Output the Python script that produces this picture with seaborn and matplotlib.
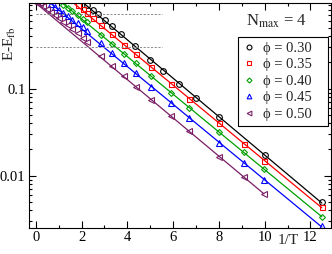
import numpy as np
import matplotlib
matplotlib.use("Agg")
import matplotlib.pyplot as plt
import seaborn as sns
from matplotlib.lines import Line2D
from matplotlib.ticker import MultipleLocator, LogLocator, NullFormatter

# ---- data ----
phi_labels = ["0.30", "0.35", "0.40", "0.45", "0.50"]

x_030 = [2.22, 2.5, 2.72, 3.03, 3.33, 3.7, 4.35, 5.0, 5.56, 6.25, 7.0, 8.0, 10.0, 12.5]
y_030 = [0.916, 0.789, 0.716, 0.605, 0.516, 0.426, 0.310, 0.212, 0.161, 0.114, 0.0776, 0.0469, 0.0171, 0.00499]

x_035 = [1.82, 2.04, 2.24, 2.5, 2.84, 3.34, 3.86, 4.36, 5.02, 5.89, 6.68, 8.02, 9.09, 9.97, 12.5]
y_035 = [0.90, 0.81, 0.736, 0.644, 0.535, 0.418, 0.318, 0.251, 0.177, 0.114, 0.0767, 0.040, 0.0233, 0.0149, 0.00434]

x_040 = [1.19, 1.4, 1.6, 1.82, 2.04, 2.24, 2.84, 3.34, 3.86, 4.36, 5.02, 5.89, 6.68, 8.02, 9.09, 9.97, 12.5]
y_040 = [0.92, 0.84, 0.77, 0.69, 0.63, 0.574, 0.414, 0.324, 0.248, 0.196, 0.140, 0.0899, 0.0605, 0.0316, 0.0186, 0.0119, 0.00335]

x_045 = [0.64, 0.84, 1.02, 1.19, 1.4, 1.6, 1.82, 2.04, 2.24, 2.84, 3.34, 3.86, 4.36, 5.02, 5.89, 6.68, 8.02, 9.09, 9.97, 12.5]
y_045 = [0.93, 0.87, 0.80, 0.74, 0.68, 0.62, 0.565, 0.51, 0.46, 0.333, 0.255, 0.196, 0.150, 0.105, 0.068, 0.0457, 0.0239, 0.0141, 0.00893, 0.00264]

x_050 = [0.06, 0.17, 0.32, 0.49, 0.67, 0.84, 1.02, 1.19, 1.4, 1.6, 1.82, 2.04, 2.24, 2.84, 3.34, 3.86, 4.36, 5.02, 5.89, 6.68, 8.02, 9.09, 9.97]
y_050 = [0.955, 0.95, 0.89, 0.83, 0.76, 0.70, 0.64, 0.585, 0.53, 0.48, 0.43, 0.385, 0.345, 0.235, 0.180, 0.138, 0.103, 0.0742, 0.0485, 0.0326, 0.0165, 0.00974, 0.00617]

ref_levels = [0.72, 0.30]
ref_x = [0.0, 5.5]

series_x = [x_030, x_035, x_040, x_045, x_050]
series_y = [y_030, y_035, y_040, y_045, y_050]
colors = ["#000000", "#ff0000", "#00a000", "#0000ff", "#7a1f66"]
markers = ["o", "s", "D", "^", "<"]
msizes = [4.1, 3.6, 3.0, 4.0, 4.0]

# ---- style ----
sns.set_style("ticks")
plt.rcParams['font.family'] = ['Liberation Serif', 'DejaVu Serif']
plt.rcParams['mathtext.fontset'] = 'stix'

fig = plt.figure(figsize=(3.32, 2.54), dpi=100)
ax = fig.add_axes([29/332, 1 - 228/254, (331 - 29)/332, (228 - 3)/254])

for xs, ys, c, m, ms in zip(series_x, series_y, colors, markers, msizes):
    xs = np.asarray(xs, float)
    ys = np.asarray(ys, float)
    sel = xs >= 3
    coef = np.polyfit(xs[sel], np.log10(ys[sel]), 1)
    xf = np.array([0.0, xs.max()])
    yf = 10 ** np.polyval(coef, xf)
    sns.lineplot(x=xf, y=yf, ax=ax, color=c, lw=0.9, legend=False,
                 estimator=None, sort=False)
    sns.lineplot(x=xs, y=ys, ax=ax, color=c, marker=m, linestyle='',
                 markersize=ms, markerfacecolor='none', markeredgecolor=c,
                 markeredgewidth=0.8, legend=False, estimator=None, sort=False)

ax.hlines(ref_levels, ref_x[0], ref_x[1], colors='#8a8a8a',
          linestyles=(0, (2.2, 1.6)), lw=0.7)

ax.set_yscale('log')
ax.set_xlim(-0.3, 12.9)
ax.set_ylim(0.0025, 0.96)

ax.xaxis.set_major_locator(MultipleLocator(2))
ax.xaxis.set_minor_locator(MultipleLocator(1))
ax.set_yticks([0.01, 0.1])
ax.set_yticklabels(["0.01", "0.1"])
ax.yaxis.set_minor_locator(LogLocator(base=10, subs=np.arange(2, 10)))
ax.yaxis.set_minor_formatter(NullFormatter())

ax.tick_params(which='both', direction='in', top=True, right=True,
               labelsize=10.5, width=0.8, colors='black')
ax.tick_params(which='major', length=5, pad=2.5)
ax.tick_params(which='minor', length=2.5)
for s in ax.spines.values():
    s.set_linewidth(0.8)
    s.set_color('black')

ax.set_ylabel(r'E-E$_{\mathrm{fb}}$', fontsize=11)
ax.yaxis.set_label_coords(-0.036, 0.82)
ax.set_xlabel('1/T', fontsize=11)
ax.xaxis.set_label_coords(0.86, -0.025)

handles = [Line2D([], [], marker=m, ls='', mfc='none', mec=c, mew=0.8, ms=ms * 0.85)
           for c, m, ms in zip(colors, markers, msizes)]
labels = [f"ϕ = {p}   " for p in phi_labels]
leg = ax.legend(handles, labels, loc='upper left', bbox_to_anchor=(0.691, 0.85),
                frameon=True, fancybox=False, edgecolor='black', framealpha=1,
                fontsize=10.5, handlelength=0.8, handletextpad=0.6,
                labelspacing=0.22, borderpad=0.35, borderaxespad=0)
leg.get_frame().set_linewidth(0.8)

ax.text(0.819, 0.917, r'N$_{\mathrm{max}}$ = 4', transform=ax.transAxes,
        ha='center', va='center', fontsize=12)

fig.savefig("out.png", dpi=100)
